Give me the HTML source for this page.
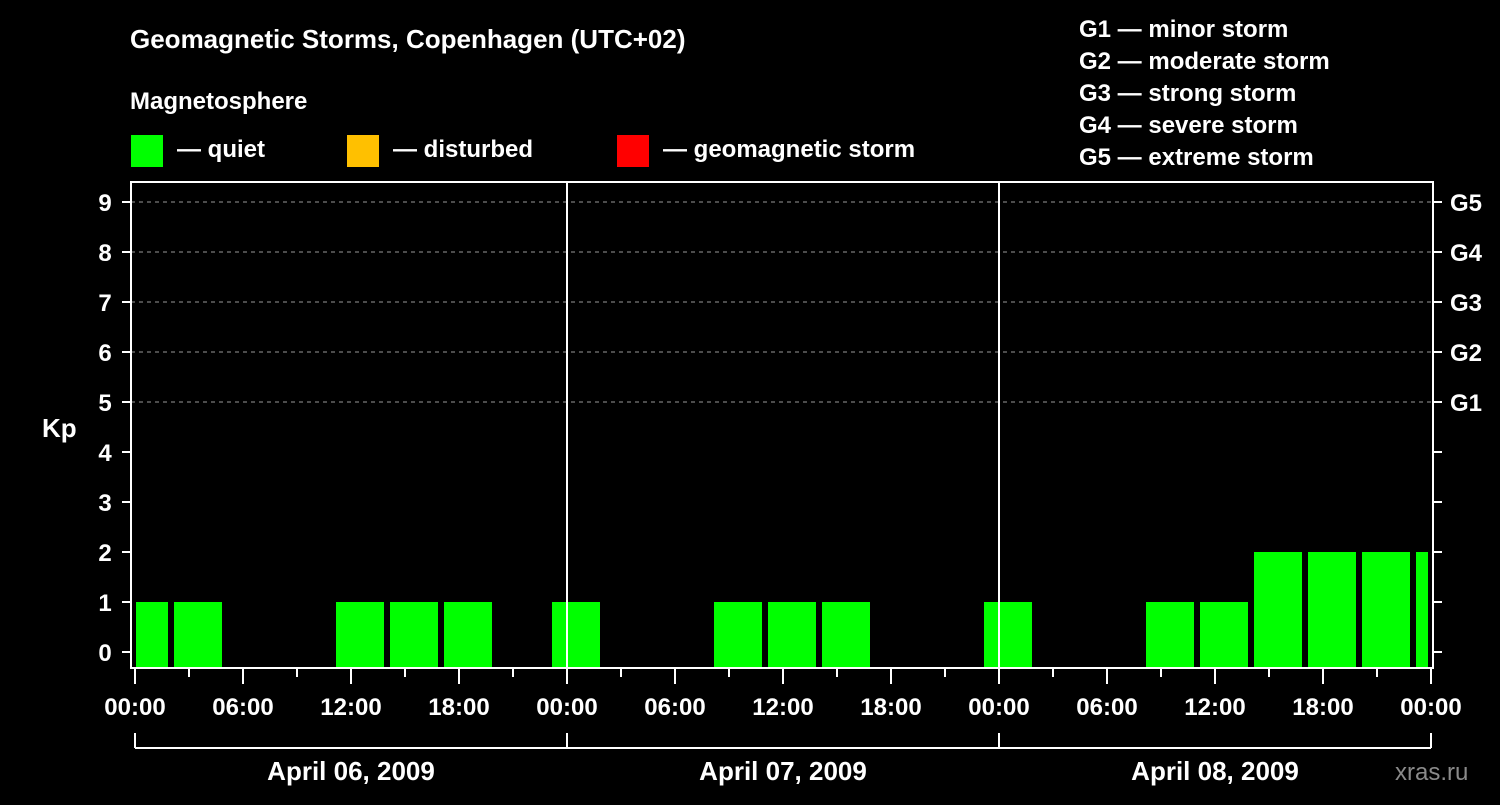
<!DOCTYPE html>
<html><head><meta charset="utf-8"><style>
body{margin:0;background:#000;width:1500px;height:800px;overflow:hidden}
svg text{font-family:"Liberation Sans",Arial,sans-serif;font-weight:bold;fill:#fff}
</style></head><body>
<svg id="c" width="1500" height="800">
<rect width="1500" height="800" fill="#000"/>
<text x="130" y="48" font-size="26">Geomagnetic Storms, Copenhagen (UTC+02)</text>
<text x="130" y="109" font-size="24">Magnetosphere</text>
<g><rect x="131" y="135" width="32" height="32" fill="#00ff00"/><text x="177" y="157" font-size="24">— quiet</text></g>
<g><rect x="347" y="135" width="32" height="32" fill="#ffc000"/><text x="393" y="157" font-size="24">— disturbed</text></g>
<g><rect x="617" y="135" width="32" height="32" fill="#ff0000"/><text x="663" y="157" font-size="24">— geomagnetic storm</text></g>
<g font-size="24">
<text x="1079" y="37">G1 — minor storm</text><text x="1079" y="69">G2 — moderate storm</text><text x="1079" y="101">G3 — strong storm</text><text x="1079" y="133">G4 — severe storm</text><text x="1079" y="165">G5 — extreme storm</text></g>
<text x="42" y="437" font-size="26">Kp</text>
<text x="1395" y="780" font-size="24" fill="#888" style="fill:#8a8a8a;font-weight:normal">xras.ru</text>
<g id="plot"></g>
</svg>
<script>
const kpValues=[1,1,0,0,1,1,1,0,1,0,0,1,1,1,0,0,1,0,0,1,1,2,2,2,2];
const yTicks=[0,1,2,3,4,5,6,7,8,9];
const gLabels=["G1","G2","G3","G4","G5"];
const gLevels=[5,6,7,8,9];
const xTickLabels=["00:00","06:00","12:00","18:00","00:00","06:00","12:00","18:00","00:00","06:00","12:00","18:00","00:00"];
const dayLabels=["April 06, 2009","April 07, 2009","April 08, 2009"];
const ns="http://www.w3.org/2000/svg";
const P=document.getElementById('plot');
const L=131,R=1433,T=182,B=668;
const x=h=>135+18*h;
const y=v=>652-50*v;
function mk(t,a){const e=document.createElementNS(ns,t);for(const k in a)e.setAttribute(k,a[k]);P.appendChild(e);return e;}
// grid
gLevels.forEach(v=>{const e=mk('line',{x1:L,x2:R,y1:y(v),y2:y(v),stroke:'#999','stroke-dasharray':'4,4','stroke-width':1});

});
// bars
kpValues.forEach((v,k)=>{if(v<=0)return;
let s=x(-1+3*k)+3,e=x(2+3*k)-3;s=Math.max(s,L+5);e=Math.min(e,R-5);
const c=v>=5?'#ff0000':(v>=4?'#ffc000':'#00ff00');
const r=mk('rect',{x:s,y:y(v),width:e-s,height:B-1-y(v),fill:c});

});
// day separators
[24,48].forEach(h=>{const e=mk('line',{x1:x(h),x2:x(h),y1:T,y2:B,stroke:'#fff','stroke-width':2});

});
// frame
const f=mk('rect',{x:L,y:T,width:R-L,height:B-T,fill:'none',stroke:'#fff','stroke-width':2});


// y ticks
yTicks.forEach(v=>{mk('line',{x1:122,x2:L,y1:y(v),y2:y(v),stroke:'#fff','stroke-width':2});
mk('line',{x1:R,x2:1442,y1:y(v),y2:y(v),stroke:'#fff','stroke-width':2});
const t=mk('text',{x:105,y:y(v)+9,'font-size':24,'text-anchor':'middle'});t.textContent=v;

});
gLabels.forEach((g,i)=>{const t=mk('text',{x:1450,y:y(gLevels[i])+9,'font-size':24});t.textContent=g;

});
// x ticks
for(let h=0;h<=72;h+=3){const maj=h%6===0;mk('line',{x1:x(h),x2:x(h),y1:B,y2:B+(maj?16:9),stroke:'#fff','stroke-width':2});}
xTickLabels.forEach((s,i)=>{const t=mk('text',{x:x(i*6),y:715,'font-size':24,'text-anchor':'middle'});t.textContent=s;

});
// day brackets
mk('line',{x1:x(0),x2:x(72),y1:748,y2:748,stroke:'#fff','stroke-width':2});
[0,24,48,72].forEach(h=>mk('line',{x1:x(h),x2:x(h),y1:733,y2:748,stroke:'#fff','stroke-width':2}));
dayLabels.forEach((d,i)=>{const t=mk('text',{x:x(12+24*i),y:780,'font-size':26,'text-anchor':'middle'});t.textContent=d;

});
</script>
</body></html>
